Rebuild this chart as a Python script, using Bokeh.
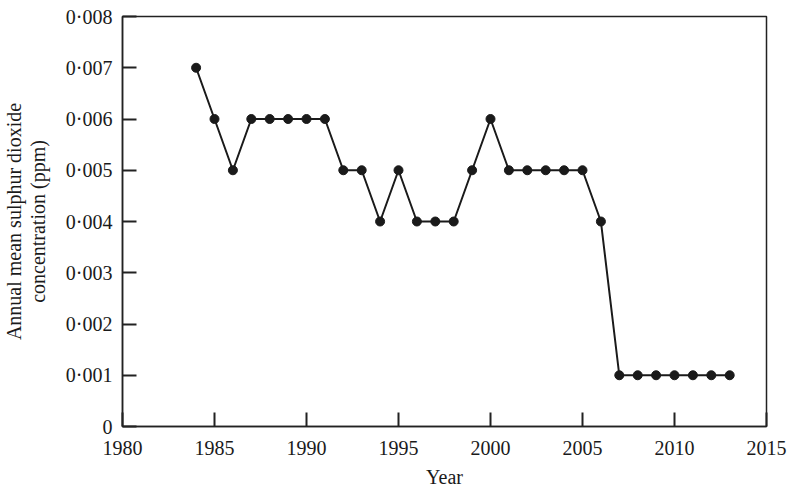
from bokeh.plotting import figure
from bokeh.models import ColumnDataSource, FixedTicker, CustomJSTickFormatter, Range1d, Title
from bokeh.embed import file_html
from bokeh.resources import INLINE

years = [1984, 1985, 1986, 1987, 1988, 1989, 1990, 1991, 1992, 1993, 1994, 1995,
         1996, 1997, 1998, 1999, 2000, 2001, 2002, 2003, 2004, 2005, 2006, 2007,
         2008, 2009, 2010, 2011, 2012, 2013]
so2 = [0.007, 0.006, 0.005, 0.006, 0.006, 0.006, 0.006, 0.006, 0.005, 0.005, 0.004, 0.005,
       0.004, 0.004, 0.004, 0.005, 0.006, 0.005, 0.005, 0.005, 0.005, 0.005, 0.004, 0.001,
       0.001, 0.001, 0.001, 0.001, 0.001, 0.001]
x_ticks = [1980, 1985, 1990, 1995, 2000, 2005, 2010, 2015]
y_ticks = [0, 0.001, 0.002, 0.003, 0.004, 0.005, 0.006, 0.007, 0.008]
y_label_lines = ["Annual mean sulphur dioxide", "concentration (ppm)"]

src = ColumnDataSource(dict(x=years, y=so2))

p = figure(width=787, height=490, output_backend="svg", toolbar_location=None,
           x_range=Range1d(1980, 2015), y_range=Range1d(0, 0.008),
           min_border_left=122, min_border_right=21, min_border_top=16, min_border_bottom=64)

ink = "#1a1a1a"
p.line("x", "y", source=src, line_color=ink, line_width=2)
p.scatter("x", "y", source=src, size=9, fill_color=ink, line_color=ink)

font = "Liberation Serif"
p.xgrid.visible = False
p.ygrid.visible = False
p.outline_line_color = "#222222"
p.outline_line_width = 1.5
p.outline_line_alpha = 1

for ax in (p.xaxis[0], p.yaxis[0]):
    ax.major_label_text_font = font
    ax.major_label_text_font_size = "20px"
    ax.major_label_text_color = ink
    ax.axis_label_text_font = font
    ax.axis_label_text_font_size = "20px"
    ax.axis_label_text_font_style = "normal"
    ax.axis_label_text_color = ink
    ax.axis_line_color = "#222222"
    ax.axis_line_width = 1.5
    ax.major_tick_line_color = "#222222"
    ax.major_tick_line_width = 2
    ax.major_tick_in = 14
    ax.major_tick_out = 0
    ax.minor_tick_line_color = None

p.xaxis.ticker = FixedTicker(ticks=x_ticks)
p.yaxis.ticker = FixedTicker(ticks=y_ticks)
p.yaxis.formatter = CustomJSTickFormatter(
    code="return Math.abs(tick) < 1e-12 ? '0' : tick.toFixed(3).replace('.', '\u00b7');")
p.xaxis.major_label_standoff = 14
p.yaxis.major_label_standoff = 10
p.xaxis.axis_label = "Year"
p.xaxis.axis_label_standoff = 8

# blank spacer label on the y axis to push the titles outward
p.yaxis.axis_label = " "
p.yaxis.axis_label_text_font_size = "1px"
p.yaxis.axis_label_standoff = 10

# y-axis title, two lines, as left-side titles (nearest the frame first)
for txt in reversed(y_label_lines):
    p.add_layout(Title(text=txt, align="center", text_font=font, text_font_size="20px",
                       text_font_style="normal", text_color=ink, standoff=0), "left")

open("out.html", "w").write(file_html(p, INLINE))
